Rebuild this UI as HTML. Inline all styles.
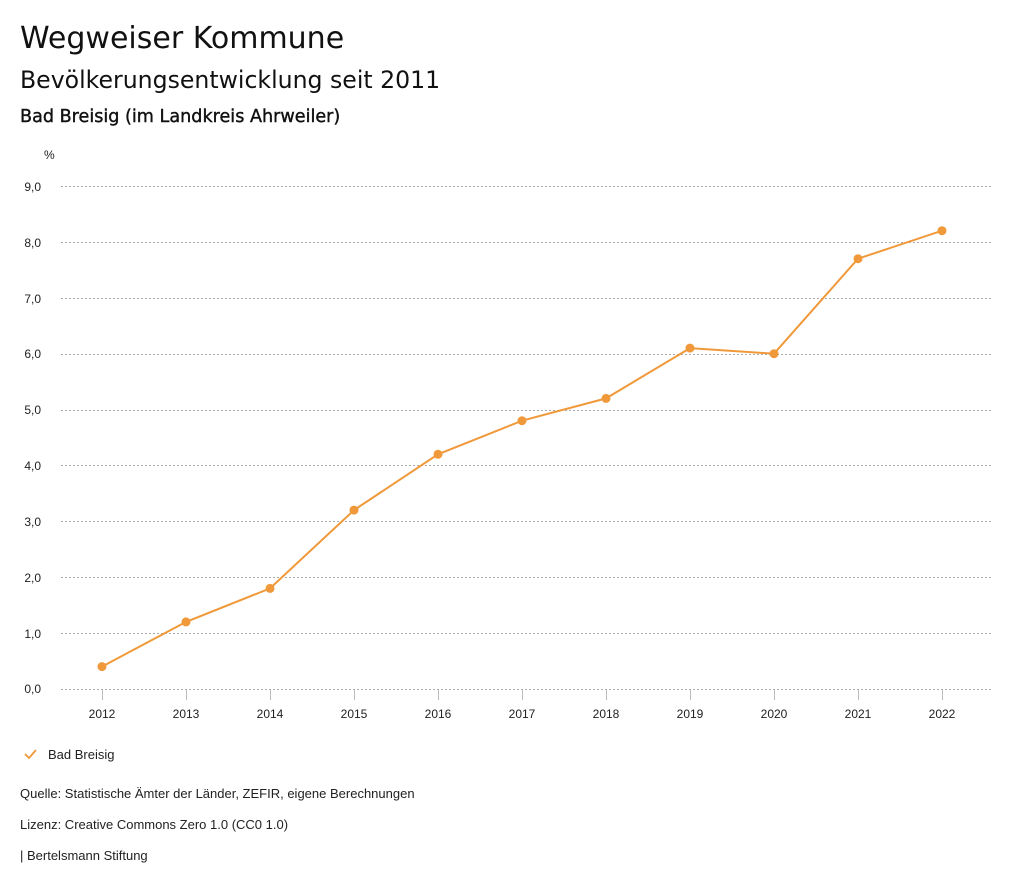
<!DOCTYPE html>
<html><head><meta charset="utf-8"><style>
body{margin:0;background:#fff;width:1024px;height:888px;overflow:hidden}
svg{display:block}
text{font-family:"Liberation Sans",sans-serif;fill:#222}
.t{font-family:"DejaVu Sans",sans-serif;fill:#111}
</style></head><body>
<svg width="1024" height="888" xmlns="http://www.w3.org/2000/svg">
<text class="t" x="20" y="48" font-size="30">Wegweiser Kommune</text>
<text class="t" x="20" y="88" font-size="23.6">Bevölkerungsentwicklung seit 2011</text>
<text class="t" x="20" y="122" font-size="17.6" stroke="#111" stroke-width="0.4">Bad Breisig (im Landkreis Ahrweiler)</text>
<text x="44" y="159" font-size="12">%</text>
<g stroke="#aaa" stroke-width="1" stroke-dasharray="2,2">
<line x1="61" x2="992" y1="186.5" y2="186.5"/><line x1="61" x2="992" y1="242.5" y2="242.5"/>
<line x1="61" x2="992" y1="298.5" y2="298.5"/><line x1="61" x2="992" y1="354.5" y2="354.5"/>
<line x1="61" x2="992" y1="410.5" y2="410.5"/><line x1="61" x2="992" y1="465.5" y2="465.5"/>
<line x1="61" x2="992" y1="521.5" y2="521.5"/><line x1="61" x2="992" y1="577.5" y2="577.5"/>
<line x1="61" x2="992" y1="633.5" y2="633.5"/><line x1="61" x2="992" y1="689.5" y2="689.5"/>
</g>
<g font-size="12" text-anchor="end">
<text x="41" y="191">9,0</text><text x="41" y="247">8,0</text><text x="41" y="303">7,0</text>
<text x="41" y="358">6,0</text><text x="41" y="414">5,0</text><text x="41" y="470">4,0</text>
<text x="41" y="526">3,0</text><text x="41" y="582">2,0</text><text x="41" y="638">1,0</text>
<text x="41" y="693">0,0</text>
</g>
<g stroke="#bbb"><path d="M102.5 690v10M186.5 690v10M270.5 690v10M354.5 690v10M438.5 690v10M522.5 690v10M606.5 690v10M690.5 690v10M774.5 690v10M858.5 690v10M942.5 690v10"/></g>
<g font-size="12" text-anchor="middle">
<text x="102" y="718">2012</text><text x="186" y="718">2013</text><text x="270" y="718">2014</text>
<text x="354" y="718">2015</text><text x="438" y="718">2016</text><text x="522" y="718">2017</text>
<text x="606" y="718">2018</text><text x="690" y="718">2019</text><text x="774" y="718">2020</text>
<text x="858" y="718">2021</text><text x="942" y="718">2022</text>
</g>
<polyline fill="none" stroke="#f0993a" stroke-width="2" points="102,666.6 186,621.9 270,588.4 354,510.1 438,454.3 522,420.7 606,398.4 690,348.1 774,353.7 858,258.7 942,230.7"/>
<g fill="#f0993a">
<circle cx="102" cy="666.6" r="4.5"/><circle cx="186" cy="621.9" r="4.5"/><circle cx="270" cy="588.4" r="4.5"/>
<circle cx="354" cy="510.1" r="4.5"/><circle cx="438" cy="454.3" r="4.5"/><circle cx="522" cy="420.7" r="4.5"/>
<circle cx="606" cy="398.4" r="4.5"/><circle cx="690" cy="348.1" r="4.5"/><circle cx="774" cy="353.7" r="4.5"/>
<circle cx="858" cy="258.7" r="4.5"/><circle cx="942" cy="230.7" r="4.5"/>
</g>
<path d="M25 754l4 4 7-8" fill="none" stroke="#f0993a" stroke-width="1.8"/>
<text x="48" y="759" font-size="13">Bad Breisig</text>
<text x="20" y="798" font-size="13">Quelle: Statistische Ämter der Länder, ZEFIR, eigene Berechnungen</text>
<text x="20" y="829" font-size="13">Lizenz: Creative Commons Zero 1.0 (CC0 1.0)</text>
<text x="20" y="860" font-size="13">| Bertelsmann Stiftung</text>
</svg>
</body></html>
